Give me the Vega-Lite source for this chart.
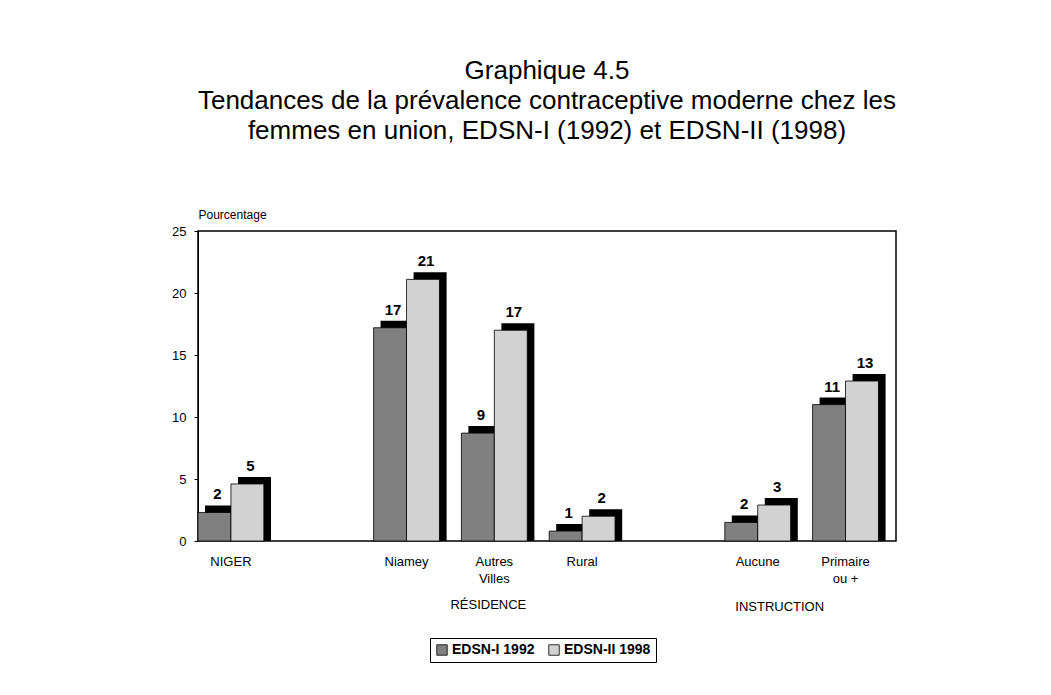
{
  "$schema": "https://vega.github.io/schema/vega-lite/v6.json",
  "width": 698,
  "height": 310,
  "autosize": {"type": "none"},
  "padding": {"left": 198, "top": 231, "right": 155, "bottom": 154},
  "background": "white",
  "config": {"font": "Liberation Sans", "view": {"stroke": "black", "strokeWidth": 1.5}},
  "title": {
    "text": ["Graphique 4.5", "Tendances de la prévalence contraceptive moderne chez les", "femmes en union, EDSN-I (1992) et EDSN-II (1998)"],
    "fontSize": 26, "fontWeight": "normal", "lineHeight": 30, "anchor": "middle", "offset": 64, "color": "black"
  },
  "data": {"values": [
    {"cat": "NIGER", "series": "EDSN-I 1992", "value": 2.3, "label": "2"},
    {"cat": "NIGER", "series": "EDSN-II 1998", "value": 4.6, "label": "5"},
    {"cat": "Niamey", "series": "EDSN-I 1992", "value": 17.2, "label": "17"},
    {"cat": "Niamey", "series": "EDSN-II 1998", "value": 21.1, "label": "21"},
    {"cat": "Autres|Villes", "series": "EDSN-I 1992", "value": 8.7, "label": "9"},
    {"cat": "Autres|Villes", "series": "EDSN-II 1998", "value": 17.0, "label": "17"},
    {"cat": "Rural", "series": "EDSN-I 1992", "value": 0.8, "label": "1"},
    {"cat": "Rural", "series": "EDSN-II 1998", "value": 2.0, "label": "2"},
    {"cat": "Aucune", "series": "EDSN-I 1992", "value": 1.5, "label": "2"},
    {"cat": "Aucune", "series": "EDSN-II 1998", "value": 2.9, "label": "3"},
    {"cat": "Primaire|ou +", "series": "EDSN-I 1992", "value": 11.0, "label": "11"},
    {"cat": "Primaire|ou +", "series": "EDSN-II 1998", "value": 12.9, "label": "13"}
  ]},
  "encoding": {
    "x": {"field": "cat", "type": "nominal",
      "scale": {"domain": ["NIGER", " ", "Niamey", "Autres|Villes", "Rural", "  ", "Aucune", "Primaire|ou +"], "paddingInner": 0.25, "paddingOuter": 0.1, "align": 0},
      "axis": {"title": null, "labelAngle": 0, "ticks": false, "domain": false, "labelExpr": "split(datum.label, '|')", "labelFontSize": 13, "labelColor": "black", "labelPadding": 14, "labelBaseline": "top", "labelLineHeight": 17}
    },
    "y": {"field": "value", "type": "quantitative",
      "scale": {"domain": [0, 25], "nice": false},
      "axis": {"title": "Pourcentage", "titleAngle": 0, "titleX": 0, "titleY": -10, "titleAlign": "left", "titleBaseline": "bottom", "titleFontWeight": "normal", "titleFontSize": 12, "titleColor": "black", "grid": false, "values": [0, 5, 10, 15, 20, 25], "labelFontSize": 13, "labelColor": "black", "tickSize": 4, "tickColor": "black", "domainColor": "black", "labelPadding": 8}
    }
  },
  "layer": [
    {
      "mark": {"type": "bar", "color": "black", "yOffset": -7, "y2Offset": 0},
      "encoding": {
        "y2": {"datum": 0},
        "xOffset": {"field": "series", "type": "nominal", "scale": {"range": [7, 73], "paddingInner": 0, "paddingOuter": 0}}
      }
    },
    {
      "mark": {"type": "bar", "stroke": "black", "strokeWidth": 0.8},
      "encoding": {
        "xOffset": {"field": "series", "type": "nominal", "scale": {"paddingInner": 0, "paddingOuter": 0}},
        "fill": {"field": "series", "type": "nominal",
          "scale": {"domain": ["EDSN-I 1992", "EDSN-II 1998"], "range": ["#808080", "#d2d2d2"]},
          "legend": {"title": null, "orient": "none", "legendX": 232, "legendY": 407, "direction": "horizontal", "strokeColor": "black", "padding": 5, "symbolType": "square", "symbolSize": 110, "symbolStrokeColor": "black", "symbolStrokeWidth": 0.8, "labelFontSize": 14, "labelFontWeight": "bold", "labelColor": "black", "columnPadding": 12, "symbolOffset": 0, "labelOffset": 3}
        }
      }
    },
    {
      "mark": {"type": "text", "fontSize": 15, "fontWeight": "bold", "baseline": "bottom", "dy": -10, "dx": 3, "color": "black"},
      "encoding": {
        "xOffset": {"field": "series", "type": "nominal", "scale": {"type": "point", "padding": 0.5}},
        "text": {"field": "label"}
      }
    },
    {
      "data": {"values": [{"cat": "Autres|Villes", "group": "RÉSIDENCE", "value": 0}]},
      "mark": {"type": "text", "fontSize": 13, "baseline": "middle", "dy": 64, "dx": -6, "color": "black"},
      "encoding": {"text": {"field": "group"}}
    },
    {
      "data": {"values": [{"cat": "Aucune", "group": "INSTRUCTION", "value": 0}]},
      "mark": {"type": "text", "fontSize": 13, "baseline": "middle", "dy": 66, "dx": 22, "color": "black"},
      "encoding": {"text": {"field": "group"}}
    }
  ],
  "resolve": {"scale": {"xOffset": "independent"}}
}
